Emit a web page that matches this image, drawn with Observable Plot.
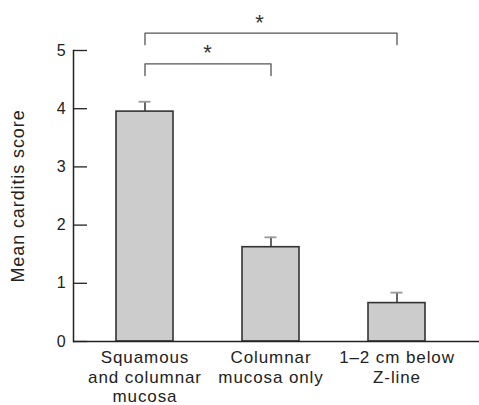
<!DOCTYPE html>
<html>
<head>
<meta charset="utf-8">
<script src="https://cdn.jsdelivr.net/npm/d3@7"></script>
<script src="https://cdn.jsdelivr.net/npm/@observablehq/plot@0.6"></script>
<style>
  html, body { margin: 0; padding: 0; background: #fff; }
  #chart { width: 479px; height: 405px; }
  #chart svg text { letter-spacing: 0.9px; }
</style>
</head>
<body>
<div id="chart"></div>
<script>
const categories = ["Squamous\nand columnar\nmucosa", "Columnar\nmucosa only", "1\u20132 cm below\nZ-line"];
const means = [3.95, 1.62, 0.66];
const errorTops = [4.12, 1.79, 0.84];
const yTicks = [0, 1, 2, 3, 4, 5];
const yLabel = "Mean carditis score";
// significance brackets: from category index, to category index, bar level, leg-end level
const bracketFrom = [0, 0];
const bracketTo = [2, 1];
const bracketLevel = [5.30, 4.77];
const bracketLeg = [5.10, 4.57];
const starLevel = [5.47, 4.96];
const starText = ["*", "*"];

const bars = categories.map((c, i) => ({cat: c, mean: means[i], err: errorTops[i]}));
const bracketPts = [];
bracketFrom.forEach((f, i) => {
  const a = categories[f], b = categories[bracketTo[i]];
  bracketPts.push({id: i, x: a, y: bracketLeg[i]});
  bracketPts.push({id: i, x: a, y: bracketLevel[i]});
  bracketPts.push({id: i, x: b, y: bracketLevel[i]});
  bracketPts.push({id: i, x: b, y: bracketLeg[i]});
});
const upperStar = [{x: categories[1], y: starLevel[0], t: starText[0]}];
const lowerStar = [{x: categories[0], y: starLevel[1], t: starText[1]}];

const ink = "#222";
const chart = Plot.plot({
  width: 479,
  height: 405,
  marginLeft: 73,
  marginRight: 0,
  marginTop: 50,
  marginBottom: 64,
  style: {fontFamily: "'Liberation Sans', Arial, sans-serif", fontSize: "16px", color: ink, background: "#fff"},
  x: {type: "band", domain: categories, range: [115, 426], paddingInner: 0.551, paddingOuter: 0},
  y: {domain: [0, 5]},
  marks: [
    Plot.barY(bars, {x: "cat", y: "mean", fill: "#cccccc", stroke: "#333", strokeWidth: 1.6}),
    Plot.ruleX(bars, {x: "cat", y1: "mean", y2: "err", stroke: "#333", strokeWidth: 1.5}),
    Plot.tickY(bars, {x: "cat", y: "err", stroke: "#999", strokeWidth: 1.8, insetLeft: 22.5, insetRight: 22.5}),
    Plot.line(bracketPts, {x: "x", y: "y", z: "id", stroke: "#555", strokeWidth: 1.3}),
    Plot.text(upperStar, {x: "x", y: "y", text: "t", dx: -11, fontSize: 22, fill: "#333"}),
    Plot.text(lowerStar, {x: "x", y: "y", text: "t", dx: 63, fontSize: 22, fill: "#333"}),
    Plot.ruleY([0], {stroke: ink, strokeWidth: 1.5}),
    Plot.frame({anchor: "left", stroke: ink, strokeWidth: 1.5}),
    Plot.axisY(yTicks, {tickSize: -14, tickFormat: () => "", label: null, stroke: ink, strokeWidth: 1.3}),
    Plot.axisY(yTicks, {tickSize: 0, tickPadding: 7, tickFormat: "d", label: null, fontSize: 16, fill: ink}),
    Plot.axisX({tickSize: 0, tickPadding: 7, label: null, fontSize: 17, lineHeight: 1.17, fill: ink}),
    Plot.text([yLabel], {text: d => d, frameAnchor: "left", textAnchor: "middle", dx: -55, rotate: -90, fontSize: 18, fill: ink})
  ]
});
document.getElementById("chart").appendChild(chart);
</script>
</body>
</html>
